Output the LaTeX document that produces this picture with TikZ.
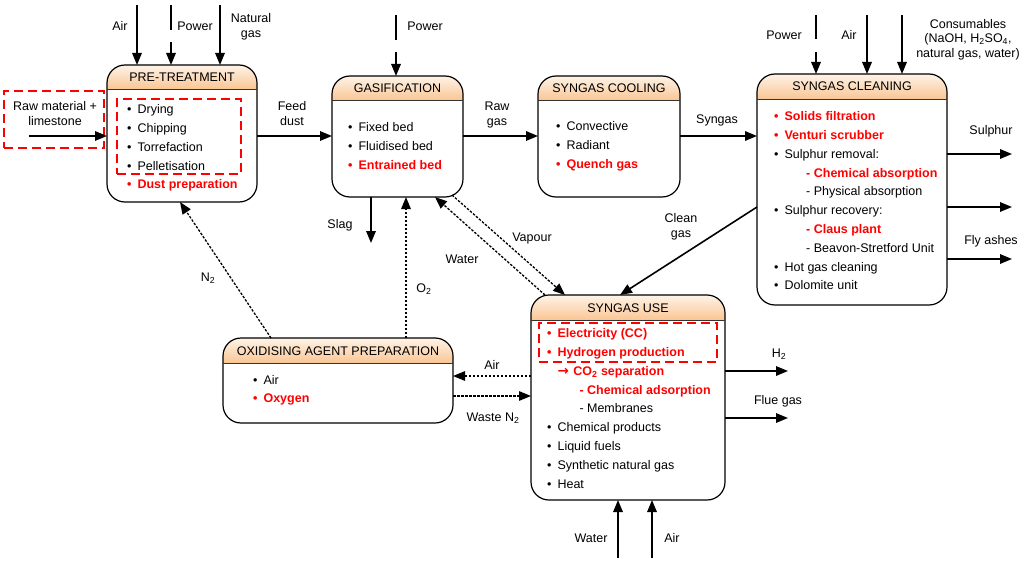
\documentclass[tikz,border=0pt]{standalone}
\usepackage{fontspec}
\setmainfont{Liberation Sans}
\newfontfamily\djv{DejaVu Sans}
\usetikzlibrary{arrows.meta,calc}
\definecolor{hdtop}{RGB}{254,243,232}
\definecolor{hdbot}{RGB}{250,198,148}
\definecolor{rd}{RGB}{255,0,0}
\newcommand\bu{\textbullet\hspace{6.2pt}}
\newcommand\ri[1]{{\color{rd}\bfseries\textbullet\hspace{6.2pt}#1}}
\newcommand\rs[1]{{\color{rd}\bfseries #1}}
\newcommand\procbox[7]{%
  \begin{scope}
    \clip[rounded corners=18pt] (#2,#3) rectangle (#4,#5);
    \shade[top color=hdtop,bottom color=hdbot] (#2,#3) rectangle (#4,#6);
  \end{scope}
  \node[procframe,minimum width={#4-#2},minimum height={#5-#3}] (#1) at ({(#2+#4)/2},{(#3+#5)/2}) {};
  \draw[hdline] (#2,#6) -- (#4,#6);
  \node[hdtext] (#1-title) at ({(#2+#4)/2},{(#3+#6)/2}) {#7};
}
\begin{document}
\begin{tikzpicture}[x=1pt,y=-1pt,
  procframe/.style={draw, rounded corners=18pt, line width=1.2pt, inner sep=0pt, outer sep=0pt},
  hdline/.style={line width=0.9pt, draw=black!80},
  hdtext/.style={inner sep=0pt, font=\fontsize{12.5}{15}\selectfont, text height=9pt, text depth=0pt},
  lst/.style={inner sep=0pt, align=left, anchor=north west, font=\fontsize{12.5}{18.8}\selectfont},
  lbl/.style={inner sep=0pt, font=\fontsize{12.5}{15}\selectfont, text height=9pt, text depth=0pt},
  mlbl/.style={inner sep=0pt, align=center, font=\fontsize{12.5}{15}\selectfont},
  arr/.style={line width=1.6pt, -{Triangle[length=12pt,width=9.5pt]}},
  seg/.style={line width=1.6pt},
  darr/.style={line width=1.3pt, dash pattern=on 2.5pt off 1.5pt, -{Triangle[length=12pt,width=9.5pt]}},
  rbox/.style={draw=rd, line width=1.5pt, dash pattern=on 9pt off 5pt, inner sep=0pt, outer sep=0pt},
]
\useasboundingbox (0,0) rectangle (1024,564);

% ---------- process boxes ----------
\procbox{pre}{107}{65}{257}{202}{89}{PRE-TREATMENT}
\procbox{gas}{332}{76}{463}{197}{100}{GASIFICATION}
\procbox{cool}{538}{76}{680}{197}{100}{SYNGAS COOLING}
\procbox{clean}{757}{74}{947}{305}{99}{SYNGAS CLEANING}
\procbox{use}{531}{295}{725}{500}{320}{SYNGAS USE}
\procbox{ox}{223}{338}{453}{423}{363}{OXIDISING AGENT PREPARATION}

% ---------- lists ----------
\node[lst] (prelist) at (126.8,100.3) {\strut\bu Drying\\\bu Chipping\\\bu Torrefaction\\\bu Pelletisation\\\ri{Dust preparation}};
\node[lst] (gaslist) at (347.8,118.3) {\strut\bu Fixed bed\\\bu Fluidised bed\\\ri{Entrained bed}};
\node[lst] (coollist) at (555.8,117.3) {\strut\bu Convective\\\bu Radiant\\\ri{Quench gas}};
\node[lst] (cleanlist) at (773.8,107.3) {\strut\ri{Solids filtration}\\\ri{Venturi scrubber}\\\bu Sulphur removal:\\
  \hspace*{32.2pt}\rs{- Chemical absorption}\\\hspace*{32.2pt}- Physical absorption\\\bu Sulphur recovery:\\
  \hspace*{32.2pt}\rs{- Claus plant}\\\hspace*{32.2pt}- Beavon-Stretford Unit\\\bu Hot gas cleaning\\\bu Dolomite unit};
\node[lst] (uselist) at (546.8,324.3) {\strut\ri{Electricity (CC)}\\\ri{Hydrogen production}\\
  \hspace*{10.6pt}\rs{{\djv\bfseries\fontsize{13.5}{18.8}\selectfont →}\hspace{4.5pt}CO\textsubscript{2} separation}\\\hspace*{32.5pt}\rs{- Chemical adsorption}\\
  \hspace*{32.5pt}- Membranes\\\bu Chemical products\\\bu Liquid fuels\\\bu Synthetic natural gas\\\bu Heat};
\node[lst] (oxlist) at (252.8,371.3) {\strut\bu Air\\[-0.8pt]\ri{Oxygen}};

% ---------- red dashed groupings ----------
\node[rbox, minimum width=100, minimum height=57] (rawbox) at (54,119.5) {};
\node[rbox, minimum width=124, minimum height=75] (prebox) at (179,136.5) {};
\node[rbox, minimum width=178, minimum height=39] (usebox) at (628,342.5) {};
\node[mlbl] (rawtxt) at (55,114) {Raw material +\\limestone};

% ---------- coordinates ----------
\coordinate (rawstart) at (29,136);
\coordinate (ymain) at (0,136);
\coordinate (pa) at (137,5);
\coordinate (pp1) at (171,5); \coordinate (pp2) at (171,30); \coordinate (pp3) at (171,42);
\coordinate (png) at (220,5);
\coordinate (gp1) at (396,15); \coordinate (gp2) at (396,40); \coordinate (gp3) at (396,52);
\coordinate (cp1) at (816,15); \coordinate (cp2) at (816,39); \coordinate (cp3) at (816,52);
\coordinate (ca) at (867,15);
\coordinate (cc) at (902,15);
\coordinate (o1) at (1012,154); \coordinate (o2) at (1012,207); \coordinate (o3) at (1012,259);
\coordinate (uh) at (788,371); \coordinate (uf) at (788,418);
\coordinate (bw) at (618,558); \coordinate (ba) at (652,558);
\coordinate (cg1) at (0,207); \coordinate (cg2) at (620,0);
\coordinate (wa) at (545,0); \coordinate (wb) at (435,0);
\coordinate (vs) at (452,195); \coordinate (vb) at (565,0);
\coordinate (xo) at (406,0);
\coordinate (slagend) at (371,243);
\coordinate (n2a) at (271,0); \coordinate (n2b) at (180,0);
\coordinate (yair) at (0,376); \coordinate (ywn) at (0,396);

% ---------- solid connectors ----------
\draw[arr] (rawstart) -- (rawstart -| pre.west);
\draw[arr] (pre.east |- ymain) -- (gas.west |- ymain);
\draw[arr] (gas.east |- ymain) -- (cool.west |- ymain);
\draw[arr] (cool.east |- ymain) -- (clean.west |- ymain);
\draw[arr] (pa) -- (pa |- pre.north);
\draw[seg] (pp1) -- (pp2);
\draw[arr] (pp3) -- (pp3 |- pre.north);
\draw[arr] (png) -- (png |- pre.north);
\draw[seg] (gp1) -- (gp2);
\draw[arr] (gp3) -- (gp3 |- gas.north);
\draw[seg] (cp1) -- (cp2);
\draw[arr] (cp3) -- (cp3 |- clean.north);
\draw[arr] (ca) -- (ca |- clean.north);
\draw[arr] (cc) -- (cc |- clean.north);
\draw[arr] (clean.east |- o1) -- (o1);
\draw[arr] (clean.east |- o2) -- (o2);
\draw[arr] (clean.east |- o3) -- (o3);
\draw[arr] (use.east |- uh) -- (uh);
\draw[arr] (use.east |- uf) -- (uf);
\draw[arr] (bw) -- (bw |- use.south);
\draw[arr] (ba) -- (ba |- use.south);
\draw[arr] (clean.west |- cg1) -- (use.north -| cg2);
\draw[arr] (gas.south -| slagend) -- (slagend);

% ---------- dashed connectors ----------
\draw[darr] (use.north -| wa) -- (gas.south -| wb);
\draw[darr] (vs) -- (use.north -| vb);
\draw[darr] (ox.north -| xo) -- (gas.south -| xo);
\draw[darr] (ox.north -| n2a) -- (pre.south -| n2b);
\draw[darr] (use.west |- yair) -- (ox.east |- yair);
\draw[darr] (ox.east |- ywn) -- (use.west |- ywn);

% ---------- labels ----------
\node[lbl] (lAir1) at (120,26) {Air};
\node[lbl] (lPow1) at (195,26) {Power};
\node[mlbl] (lNg) at (251,26.8) {Natural\\gas};
\node[mlbl] (lFeed) at (292,113.5) {Feed\\dust};
\node[lbl] (lPow2) at (425,26) {Power};
\node[mlbl] (lRaw) at (497,114.8) {Raw\\gas};
\node[lbl] (lSyn) at (717,119.5) {Syngas};
\node[lbl] (lPow3) at (784,35) {Power};
\node[lbl] (lAir2) at (849,35) {Air};
\node[mlbl, font=\fontsize{12.5}{14.5}\selectfont] (lCons) at (968,39.5) {Consumables\\(NaOH, H\textsubscript{2}SO\textsubscript{4},\\natural gas, water)};
\node[lbl] (lSul) at (991,130) {Sulphur};
\node[lbl] (lFly) at (991,240) {Fly ashes};
\node[mlbl] (lClean) at (681,226.8) {Clean\\gas};
\node[lbl] (lVap) at (532,237) {Vapour};
\node[lbl] (lWat1) at (462,259) {Water};
\node[lbl] (lSlag) at (340,224) {Slag};
\node[lbl] (lO2) at (424,288) {O\textsubscript{2}};
\node[lbl] (lN2) at (208,277) {N\textsubscript{2}};
\node[lbl] (lAir3) at (492,365) {Air};
\node[lbl] (lWN) at (493,417) {Waste N\textsubscript{2}};
\node[lbl] (lH2) at (779,353) {H\textsubscript{2}};
\node[lbl] (lFlue) at (778,400) {Flue gas};
\node[lbl] (lWat2) at (591,538) {Water};
\node[lbl] (lAir4) at (672,538) {Air};
\end{tikzpicture}
\end{document}
